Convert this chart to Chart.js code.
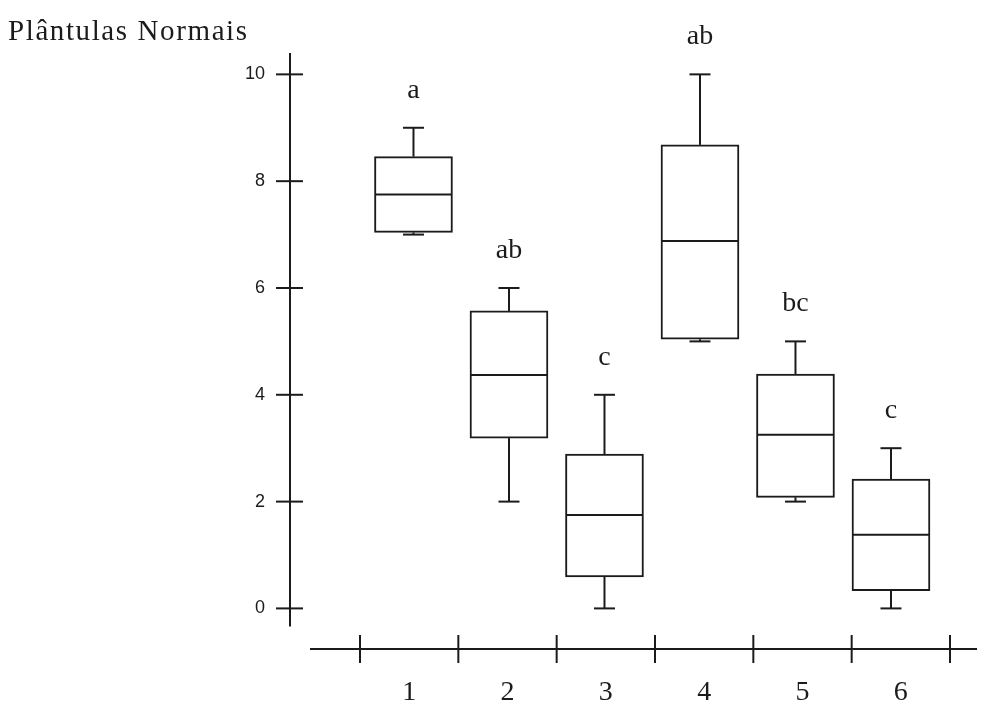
<!DOCTYPE html>
<html>
<head>
<meta charset="utf-8">
<script src="https://cdn.jsdelivr.net/npm/chart.js@4"></script>
<style>
  body { margin: 0; background: #fff; }
  canvas { display: block; }
</style>
</head>
<body>
<canvas id="chart" width="985" height="702"></canvas>
<script>
// Dados
var categorias = ['1', '2', '3', '4', '5', '6'];
var posicoes = [1, 2, 3, 4, 5, 6];
var minimos = [7.0, 2.0, 0.0, 5.0, 2.0, 0.0];
var quartil1 = [7.04, 3.19, 0.59, 5.04, 2.08, 0.33];
var medianas = [7.75, 4.37, 1.75, 6.88, 3.25, 1.38];
var quartil3 = [8.46, 5.57, 2.89, 8.68, 4.39, 2.42];
var maximos = [9.0, 6.0, 4.0, 10.0, 5.0, 3.0];
var letras = ['a', 'ab', 'c', 'ab', 'bc', 'c'];
var yTicks = [0, 2, 4, 6, 8, 10];
var titulo = 'Plântulas Normais';

var tinta = '#1b1b1b';
var larguraCaixa = 78;
var larguraHaste = 21;

// Caixas como barras flutuantes [Q1, Q3]
var caixas = posicoes.map(function (p, i) {
  return { x: p, y: [quartil1[i], quartil3[i]] };
});

// Bigodes, medianas, eixos e textos
var desenhoBoxplot = {
  id: 'desenhoBoxplot',
  afterDatasetsDraw: function (chart) {
    var ctx = chart.ctx;
    var y = chart.scales.y, xb = chart.scales.xb, xc = chart.scales.x;
    ctx.save();
    ctx.strokeStyle = tinta;
    ctx.fillStyle = tinta;
    ctx.lineWidth = 2;

    function linha(x1, y1, x2, y2) {
      ctx.beginPath();
      ctx.moveTo(x1, y1);
      ctx.lineTo(x2, y2);
      ctx.stroke();
    }

    posicoes.forEach(function (p, i) {
      var cx = xb.getPixelForValue(p);
      var meia = larguraCaixa / 2 - 1;
      // mediana
      linha(cx - meia, y.getPixelForValue(medianas[i]), cx + meia, y.getPixelForValue(medianas[i]));
      // bigode superior
      linha(cx, y.getPixelForValue(quartil3[i]), cx, y.getPixelForValue(maximos[i]));
      linha(cx - larguraHaste / 2, y.getPixelForValue(maximos[i]), cx + larguraHaste / 2, y.getPixelForValue(maximos[i]));
      // bigode inferior
      linha(cx, y.getPixelForValue(quartil1[i]), cx, y.getPixelForValue(minimos[i]));
      linha(cx - larguraHaste / 2, y.getPixelForValue(minimos[i]), cx + larguraHaste / 2, y.getPixelForValue(minimos[i]));
      // letras
      ctx.font = '28px "Liberation Serif", serif';
      ctx.textAlign = 'center';
      ctx.textBaseline = 'alphabetic';
      ctx.fillText(letras[i], cx, y.getPixelForValue(maximos[i]) - 30);
    });

    // eixo Y
    var ax = xc.left - 70;
    linha(ax, y.getPixelForValue(10.4), ax, y.getPixelForValue(-0.34));
    ctx.font = '18px "Liberation Sans", sans-serif';
    ctx.textAlign = 'right';
    ctx.textBaseline = 'middle';
    yTicks.forEach(function (v) {
      var py = y.getPixelForValue(v);
      linha(ax - 14, py, ax + 13, py);
      ctx.fillText(String(v), ax - 25, py);
    });

    // eixo X
    var ay = y.bottom;
    linha(xc.left - 50, ay, xc.right + 27, ay);
    var meio = (xc.getPixelForValue(1) - xc.getPixelForValue(0)) / 2;
    for (var k = 0; k <= categorias.length; k++) {
      var bx = k < categorias.length ? xc.getPixelForValue(k) - meio : xc.getPixelForValue(k - 1) + meio;
      linha(bx, ay - 14, bx, ay + 14);
    }
    ctx.font = '28px "Liberation Serif", serif';
    ctx.textAlign = 'center';
    ctx.textBaseline = 'alphabetic';
    categorias.forEach(function (c, k) {
      ctx.fillText(c, xc.getPixelForValue(k), ay + 51);
    });

    // título
    ctx.font = '29px "Liberation Serif", serif';
    ctx.textAlign = 'left';
    ctx.letterSpacing = '1.6px';
    ctx.fillText(titulo, 8, 40);
    ctx.restore();
  }
};

var grafico = new Chart(document.getElementById('chart'), {
  type: 'bar',
  data: {
    labels: categorias,
    datasets: [{
      label: 'Plântulas Normais',
      data: caixas,
      xAxisID: 'xb',
      backgroundColor: '#ffffff',
      borderColor: tinta,
      borderWidth: 2,
      borderSkipped: false,
      barThickness: larguraCaixa
    }]
  },
  options: {
    responsive: false,
    animation: false,
    layout: { padding: { left: 360, right: 35, top: 53, bottom: 53 } },
    plugins: { legend: { display: false }, tooltip: { enabled: false } },
    scales: {
      x: { type: 'category', offset: true, display: false },
      xb: { type: 'linear', offset: false, min: 0.44, max: 6.618, display: false },
      y: { type: 'linear', min: -0.76, max: 10.4, display: false }
    }
  },
  plugins: [desenhoBoxplot]
});
</script>
</body>
</html>
